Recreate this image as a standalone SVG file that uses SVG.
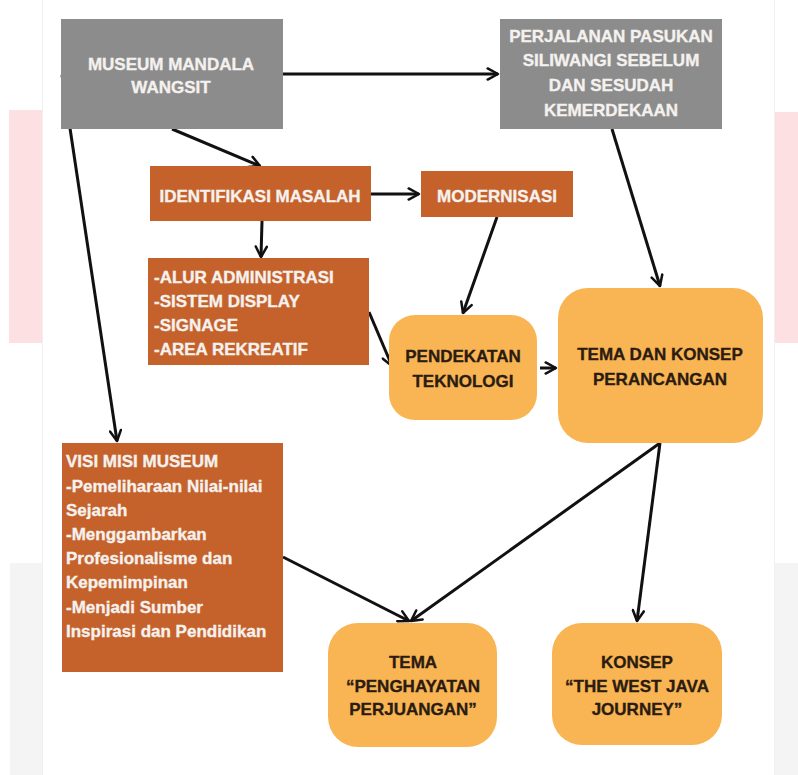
<svg xmlns="http://www.w3.org/2000/svg" width="798" height="775" viewBox="0 0 798 775">
<defs>
<marker id="arr" viewBox="0 0 12 12" refX="10.5" refY="6" markerWidth="4.6" markerHeight="4.6" markerUnits="strokeWidth" orient="auto">
<path d="M1.5,1.2 L10.5,6 L1.5,10.8" fill="none" stroke="#111" stroke-width="2.2" stroke-linecap="round" stroke-linejoin="round"/>
</marker>
<style>
.t{font-family:"Liberation Sans",Arial,sans-serif;font-weight:bold;font-size:17px;stroke-width:0.35px}
.w{fill:#f4f1ee;stroke:#f4f1ee}
.d{fill:#2b1c12;stroke:#2b1c12}
.gray{fill:#8c8c8c}
.org{fill:#c5622b}
.yel{fill:#f9b553}
.c{stroke:#111;stroke-width:3;fill:none;marker-end:url(#arr)}
</style>
</defs>
<rect width="798" height="775" fill="#ffffff"/>
<g id="background">
<rect x="9" y="110" width="33" height="233" fill="#fde0e2"/>
<rect x="10" y="563" width="32" height="212" fill="#f4f4f4"/>
<rect x="775" y="112" width="23" height="231" fill="#fde0e2"/>
<rect x="775" y="563" width="23" height="212" fill="#f4f4f4"/>
<line x1="42.5" y1="0" x2="42.5" y2="775" stroke="#f0f0f0" stroke-width="1"/>
<line x1="774.5" y1="0" x2="774.5" y2="775" stroke="#f0f0f0" stroke-width="1"/>
</g>
<g id="connectors">
<line class="c" x1="283" y1="74" x2="498" y2="74"/>
<line class="c" x1="172" y1="129" x2="260" y2="166"/>
<line class="c" x1="371" y1="194" x2="419" y2="194"/>
<line class="c" x1="262" y1="221" x2="261" y2="257"/>
<line class="c" x1="497" y1="217" x2="463" y2="313"/>
<line class="c" x1="612" y1="129" x2="660" y2="286"/>
<line class="c" x1="369" y1="312" x2="392" y2="366"/>
<line class="c" x1="540" y1="368" x2="556" y2="368"/>
<line class="c" x1="62" y1="75" x2="117" y2="441"/>
<line class="c" x1="660" y1="443" x2="411" y2="621"/>
<line class="c" x1="660" y1="443" x2="637" y2="621"/>
<line class="c" x1="283" y1="557" x2="409" y2="621"/>
</g>
<g id="museum">
<rect class="gray" x="61" y="19" width="222" height="110"/>
<text class="t w" text-anchor="middle"><tspan x="171" y="70">MUSEUM MANDALA</tspan><tspan x="171" y="93">WANGSIT</tspan></text>
</g>
<g id="perjalanan">
<rect class="gray" x="500" y="19" width="222" height="110"/>
<text class="t w" text-anchor="middle"><tspan x="611" y="42">PERJALANAN PASUKAN</tspan><tspan x="611" y="66">SILIWANGI SEBELUM</tspan><tspan x="611" y="91">DAN SESUDAH</tspan><tspan x="611" y="116">KEMERDEKAAN</tspan></text>
</g>
<g id="identifikasi">
<rect class="org" x="150" y="166" width="221" height="55"/>
<text class="t w" text-anchor="middle" x="260" y="202">IDENTIFIKASI MASALAH</text>
</g>
<g id="modernisasi">
<rect class="org" x="421" y="171" width="152" height="46"/>
<text class="t w" text-anchor="middle" x="497" y="202">MODERNISASI</text>
</g>
<g id="masalah-list">
<rect class="org" x="148" y="258" width="221" height="107"/>
<text class="t w"><tspan x="154" y="283">-ALUR ADMINISTRASI</tspan><tspan x="154" y="307">-SISTEM DISPLAY</tspan><tspan x="154" y="331">-SIGNAGE</tspan><tspan x="154" y="355">-AREA REKREATIF</tspan></text>
</g>
<g id="pendekatan">
<rect class="yel" x="389" y="315" width="148" height="105" rx="26"/>
<text class="t d" text-anchor="middle"><tspan x="463" y="362">PENDEKATAN</tspan><tspan x="463" y="387">TEKNOLOGI</tspan></text>
</g>
<g id="tema-konsep">
<rect class="yel" x="558" y="288" width="205" height="155" rx="30"/>
<text class="t d" text-anchor="middle"><tspan x="660" y="360">TEMA DAN KONSEP</tspan><tspan x="660" y="385">PERANCANGAN</tspan></text>
</g>
<g id="visi-misi">
<rect class="org" x="62" y="443" width="221" height="229"/>
<text class="t w"><tspan x="66" y="467">VISI MISI MUSEUM</tspan><tspan x="66" y="492">-Pemeliharaan Nilai-nilai</tspan><tspan x="66" y="516">Sejarah</tspan><tspan x="66" y="540">-Menggambarkan</tspan><tspan x="66" y="564">Profesionalisme dan</tspan><tspan x="66" y="588">Kepemimpinan</tspan><tspan x="66" y="613">-Menjadi Sumber</tspan><tspan x="66" y="637">Inspirasi dan Pendidikan</tspan></text>
</g>
<g id="tema">
<rect class="yel" x="328" y="623" width="169" height="124" rx="30"/>
<text class="t d" text-anchor="middle"><tspan x="413" y="668">TEMA</tspan><tspan x="413" y="692">“PENGHAYATAN</tspan><tspan x="413" y="715">PERJUANGAN”</tspan></text>
</g>
<g id="konsep">
<rect class="yel" x="552" y="623" width="170" height="122" rx="30"/>
<text class="t d" text-anchor="middle"><tspan x="637" y="668">KONSEP</tspan><tspan x="637" y="692">“THE WEST JAVA</tspan><tspan x="637" y="715">JOURNEY”</tspan></text>
</g>
</svg>
